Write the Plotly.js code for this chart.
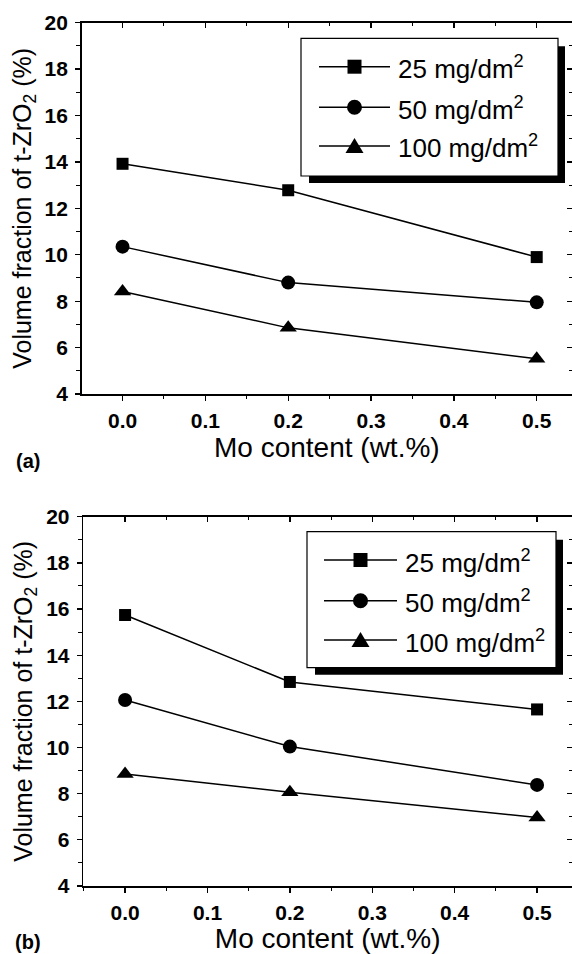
<!DOCTYPE html>
<html>
<head>
<meta charset="utf-8">
<script src="https://cdn.plot.ly/plotly-3.0.1.min.js"></script>
<style>html,body{margin:0;padding:0;background:#fff;}#chart{width:572px;height:954px;}</style>
</head>
<body>
<div id="chart"></div>
<script>
// ---- data ----
const moContent = [0.0, 0.2, 0.5];
const seriesNames = ['25 mg/dm<sup>2</sup>', '50 mg/dm<sup>2</sup>', '100 mg/dm<sup>2</sup>'];
const seriesSymbols = ['square', 'circle', 'triangle-up'];
const panelA_25 = [13.92, 12.78, 9.90];
const panelA_50 = [10.35, 8.80, 7.95];
const panelA_100 = [8.42, 6.85, 5.52];
const panelB_25 = [15.74, 12.84, 11.65];
const panelB_50 = [12.06, 10.04, 8.38];
const panelB_100 = [8.85, 8.06, 6.97];
const xTickVals = [0.0, 0.1, 0.2, 0.3, 0.4, 0.5];
const xTickText = ['0.0', '0.1', '0.2', '0.3', '0.4', '0.5'];
const yTickVals = [4, 6, 8, 10, 12, 14, 16, 18, 20];
const panelLabels = ['(a)', '(b)'];
const xTitle = 'Mo content (wt.%)';
const yTitle = 'Volume fraction of t-ZrO<sub>2</sub> (%)';

// ---- layout helpers ----
const W = 572, H = 954, MB = 68;
const PH = H - MB;
const px = v => v / W;          // paper x from pixel
const py = v => 1 - v / PH;     // paper y from pixel (plot area height)
const FONT = "'Liberation Sans', Arial, sans-serif";
const markerSizes = {square: 12, circle: 14, 'triangle-up': 15};

const panels = [
  {data: [panelA_25, panelA_50, panelA_100], x: 'x', y: 'y', x2: 'x2', y2: 'y2',
   left: 81.7, top: 22.7, bottom: 394, xr: [-0.0493, 0.5426],
   legend: {l: 301, t: 38.3, r: 558, b: 176, rows: [66.7, 107.3, 146], l0: 319, l1: 390, txt: 396},
   label: {x: 28, y: 461}},
  {data: [panelB_25, panelB_50, panelB_100], x: 'x3', y: 'y3', x2: 'x4', y2: 'y4',
   left: 83.3, top: 516.7, bottom: 886, xr: [-0.0507, 0.5424],
   legend: {l: 307, t: 531.7, r: 556, b: 667.7, rows: [560, 600.7, 640], l0: 324, l1: 397, txt: 402.7},
   label: {x: 28, y: 942}}
];

const traces = [];
const layout = {
  width: W, height: H, margin: {l: 0, r: 0, t: 0, b: MB},
  paper_bgcolor: '#fff', plot_bgcolor: 'rgba(0,0,0,0)',
  showlegend: false, shapes: [], annotations: [],
  font: {family: FONT, color: '#000'}
};

function axisKey(id) { return id.replace('x', 'xaxis').replace('y', 'yaxis'); }

panels.forEach((p, pi) => {
  p.data.forEach((vals, si) => {
    traces.push({
      x: moContent, y: vals, xaxis: p.x, yaxis: p.y, name: seriesNames[si],
      mode: 'lines+markers', type: 'scatter',
      line: {color: '#000', width: 1.5},
      marker: {symbol: seriesSymbols[si], size: markerSizes[seriesSymbols[si]], color: '#000'},
      cliponaxis: false
    });
  });
  traces.push({x: [], y: [], xaxis: p.x2, yaxis: p.y2, showlegend: false, hoverinfo: 'skip'});

  const xdom = [px(p.left), 1];
  const ydom = [Math.max(0, py(p.bottom)), py(p.top)];
  const common = {showgrid: false, zeroline: false, linecolor: '#000', tickcolor: '#000', fixedrange: true, automargin: false};
  const tickFont = {family: FONT, size: 21, color: '#000', weight: 700};
  layout[axisKey(p.x)] = Object.assign({}, common, {
    domain: xdom, range: p.xr, anchor: p.y, showline: true, linewidth: 1.6,
    tickmode: 'array', tickvals: xTickVals, ticktext: xTickText,
    ticks: 'outside', ticklen: 5, tickwidth: 1.3,
    minor: {dtick: 0.05, tick0: 0, ticks: 'outside', ticklen: 3, tickwidth: 1, tickcolor: '#000'},
    tickfont: tickFont,
    ticklabelstandoff: 2,
    title: {text: xTitle, font: {family: FONT, size: 28, color: '#000'}, standoff: 2}
  });
  layout[axisKey(p.x2)] = Object.assign({}, common, {
    domain: xdom, range: p.xr, anchor: p.y2, overlaying: p.x, side: 'top', showline: true, linewidth: 1.6,
    tickmode: 'array', tickvals: xTickVals, showticklabels: false,
    ticks: 'inside', ticklen: 5, tickwidth: 1.3,
    minor: {dtick: 0.05, tick0: 0, ticks: 'inside', ticklen: 3, tickwidth: 1, tickcolor: '#000'}
  });
  layout[axisKey(p.y)] = Object.assign({}, common, {
    domain: ydom, range: [4, 20], anchor: p.x, showline: true, linewidth: 1.6,
    tickmode: 'array', tickvals: yTickVals,
    ticks: 'outside', ticklen: 5, tickwidth: 1.3,
    minor: {dtick: 1, tick0: 0, ticks: 'outside', ticklen: 4, tickwidth: 1, tickcolor: '#000'},
    tickfont: tickFont,
    ticklabelstandoff: 3,
    title: {text: yTitle, font: {family: FONT, size: 25, color: '#000'}, standoff: 6}
  });
  layout[axisKey(p.y2)] = Object.assign({}, common, {
    domain: ydom, range: [4, 20], anchor: p.x2, overlaying: p.y, side: 'right', showline: false,
    tickmode: 'array', tickvals: yTickVals, showticklabels: false,
    ticks: 'inside', ticklen: 5, tickwidth: 1.3,
    minor: {dtick: 1, tick0: 0, ticks: 'inside', ticklen: 3, tickwidth: 1, tickcolor: '#000'}
  });

  // custom legend box with drop shadow
  const L = p.legend;
  layout.shapes.push({type: 'rect', xref: 'paper', yref: 'paper', layer: 'above',
    x0: px(L.l + 8), x1: px(L.r + 7), y0: py(L.b + 7), y1: py(L.t + 8),
    fillcolor: '#000', line: {width: 0}});
  layout.shapes.push({type: 'rect', xref: 'paper', yref: 'paper', layer: 'above',
    x0: px(L.l), x1: px(L.r), y0: py(L.b), y1: py(L.t),
    fillcolor: '#fff', line: {color: '#000', width: 1.2}});
  L.rows.forEach((ry, si) => {
    layout.shapes.push({type: 'line', xref: 'paper', yref: 'paper', layer: 'above',
      x0: px(L.l0), x1: px(L.l1), y0: py(ry), y1: py(ry), line: {color: '#000', width: 1.5}});
    const cx = (L.l0 + L.l1) / 2;
    const sym = seriesSymbols[si];
    if (sym === 'square') {
      layout.shapes.push({type: 'rect', xref: 'paper', yref: 'paper', layer: 'above',
        x0: px(cx - 7), x1: px(cx + 7), y0: py(ry + 7), y1: py(ry - 7), fillcolor: '#000', line: {width: 0}});
    } else if (sym === 'circle') {
      layout.shapes.push({type: 'circle', xref: 'paper', yref: 'paper', layer: 'above',
        x0: px(cx - 7.5), x1: px(cx + 7.5), y0: py(ry + 7.5), y1: py(ry - 7.5), fillcolor: '#000', line: {width: 0}});
    } else {
      layout.shapes.push({type: 'path', xref: 'paper', yref: 'paper', layer: 'above',
        path: `M${px(cx - 9)},${py(ry + 7)} L${px(cx + 9)},${py(ry + 7)} L${px(cx)},${py(ry - 8)} Z`,
        fillcolor: '#000', line: {width: 0}});
    }
    layout.annotations.push({xref: 'paper', yref: 'paper', x: px(L.txt), y: py(ry + 1),
      xanchor: 'left', yanchor: 'middle', showarrow: false, text: seriesNames[si],
      font: {family: FONT, size: 26, color: '#000'}});
  });
  layout.annotations.push({xref: 'paper', yref: 'paper', x: px(p.label.x), y: py(p.label.y),
    xanchor: 'center', yanchor: 'middle', showarrow: false, text: '<b>' + panelLabels[pi] + '</b>',
    font: {family: FONT, size: 20, color: '#000'}});
});

Plotly.newPlot('chart', traces, layout, {staticPlot: true, displayModeBar: false});
</script>
</body>
</html>
